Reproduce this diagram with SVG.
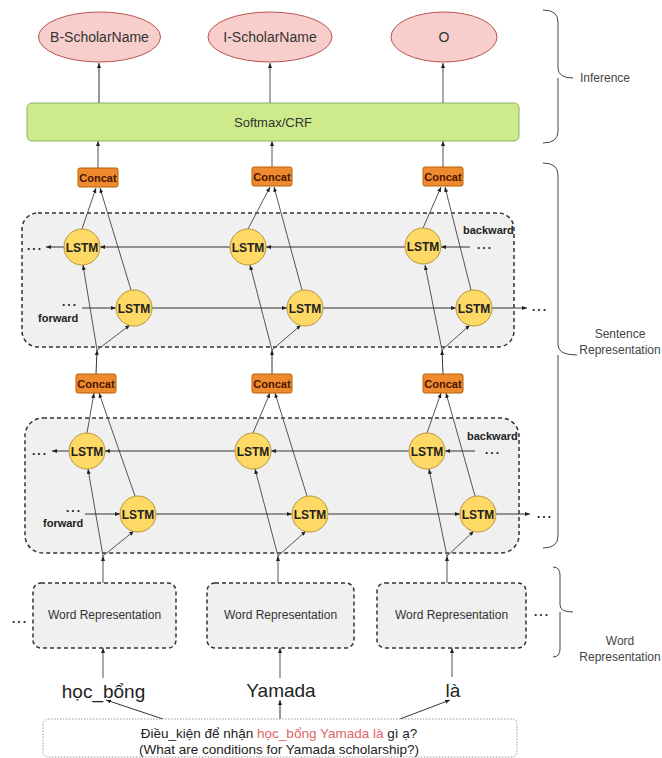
<svg xmlns="http://www.w3.org/2000/svg" width="662" height="758" viewBox="0 0 662 758">
<defs>
<marker id="a" viewBox="0 0 10 10" refX="10" refY="5" markerWidth="5" markerHeight="5" orient="auto" markerUnits="userSpaceOnUse"><path d="M0,1 L10,5 L0,9 Z" fill="#222"/></marker>
<style>
text{font-family:"Liberation Sans",Arial,sans-serif;fill:#333}
.ell{fill:#f8cecc;stroke:#b85450;stroke-width:1}
.lab{font-size:14px;text-anchor:middle}
.soft{fill:#cdeb8b;stroke:#82b366;stroke-width:1}
.cc{fill:#f08a2e;stroke:#b46504;stroke-width:1}
.cct{font-size:11px;font-weight:bold;text-anchor:middle;fill:#4a1500}
.ls{fill:#ffd966;stroke:#b8963a;stroke-width:1}
.lst{font-size:12px;font-weight:bold;text-anchor:middle;fill:#222}
.box{fill:#f0f0f0;stroke:#333;stroke-width:1.5;stroke-dasharray:4 3}
.wr{fill:#f0f0f0;stroke:#333;stroke-width:1.5;stroke-dasharray:4 3}
.wrt{font-size:12px;text-anchor:middle}
.ln{stroke:#333;stroke-width:1;fill:none}
.ld{stroke:#555;stroke-width:1;fill:none}
.arr{marker-end:url(#a)}
.dots{font-size:12px;font-weight:bold;fill:#222;letter-spacing:2px}
.dir{font-size:11px;font-weight:bold;fill:#222}
.br{stroke:#444;stroke-width:1;fill:none}
.side{font-size:12px;fill:#444}
.wd{font-size:19px;text-anchor:middle;fill:#222}
.sent{font-size:13.5px;text-anchor:middle;fill:#222}
</style>
</defs>

<!-- dashed container boxes -->
<rect id="upper-bilstm" class="box" x="22" y="213" width="492" height="134" rx="16"/>
<rect id="lower-bilstm" class="box" x="25" y="418" width="494" height="135" rx="18"/>

<g id="connectors">
<line class="ln arr" x1="99" y1="103" x2="99" y2="63"/>
<line class="ld arr" x1="270" y1="103" x2="270" y2="63"/>
<line class="ld arr" x1="443" y1="103" x2="443" y2="63"/>
<line class="ld arr" x1="98" y1="168" x2="98" y2="141"/>
<line class="ld arr" x1="272" y1="167" x2="272" y2="141"/>
<line class="ld arr" x1="443" y1="167" x2="443" y2="141"/>
<line class="ld arr" x1="82" y1="229" x2="96" y2="188"/>
<line class="ld arr" x1="131" y1="290" x2="100" y2="188"/>
<line class="ld arr" x1="248" y1="229" x2="270" y2="187"/>
<line class="ld arr" x1="302" y1="290" x2="274" y2="187"/>
<line class="ld arr" x1="423" y1="228" x2="441" y2="187"/>
<line class="ld arr" x1="471" y1="290" x2="445" y2="187"/>
<line class="ld arr" x1="97" y1="350" x2="83" y2="265"/>
<line class="ld arr" x1="97" y1="350" x2="130" y2="325"/>
<line class="ld arr" x1="272" y1="350" x2="250" y2="265"/>
<line class="ld arr" x1="272" y1="350" x2="301" y2="325"/>
<line class="ld arr" x1="442" y1="350" x2="425" y2="265"/>
<line class="ld arr" x1="442" y1="350" x2="470" y2="325"/>
<line class="ln arr" x1="470" y1="247" x2="441" y2="247"/>
<line class="ln arr" x1="405" y1="247" x2="266" y2="247"/>
<line class="ln arr" x1="230" y1="247" x2="100" y2="247"/>
<line class="ln arr" x1="64" y1="247" x2="46" y2="247"/>
<line class="ln arr" x1="82" y1="308" x2="116" y2="308"/>
<line class="ln arr" x1="152" y1="308" x2="287" y2="308"/>
<line class="ln arr" x1="323" y1="308" x2="456" y2="308"/>
<line class="ln arr" x1="492" y1="308" x2="527" y2="308"/>
<line class="ln arr" x1="96" y1="374" x2="97" y2="350"/>
<line class="ln arr" x1="272" y1="374" x2="272" y2="350"/>
<line class="ln arr" x1="443" y1="374" x2="442" y2="350"/>
<line class="ld arr" x1="87" y1="433" x2="94" y2="393"/>
<line class="ld arr" x1="135" y1="496" x2="99" y2="393"/>
<line class="ld arr" x1="253" y1="433" x2="270" y2="393"/>
<line class="ld arr" x1="307" y1="496" x2="275" y2="393"/>
<line class="ld arr" x1="427" y1="433" x2="441" y2="393"/>
<line class="ld arr" x1="475" y1="496" x2="446" y2="393"/>
<line class="ld arr" x1="103" y1="556" x2="88" y2="469"/>
<line class="ld arr" x1="103" y1="556" x2="134" y2="531"/>
<line class="ld arr" x1="278" y1="556" x2="255" y2="469"/>
<line class="ld arr" x1="278" y1="556" x2="306" y2="531"/>
<line class="ld arr" x1="447" y1="556" x2="429" y2="469"/>
<line class="ld arr" x1="447" y1="556" x2="474" y2="531"/>
<line class="ln arr" x1="475" y1="451" x2="445" y2="451"/>
<line class="ln arr" x1="409" y1="451" x2="271" y2="451"/>
<line class="ln arr" x1="235" y1="451" x2="105" y2="451"/>
<line class="ln arr" x1="69" y1="451" x2="52" y2="451"/>
<line class="ln arr" x1="85" y1="514" x2="120" y2="514"/>
<line class="ln arr" x1="156" y1="514" x2="292" y2="514"/>
<line class="ln arr" x1="328" y1="514" x2="460" y2="514"/>
<line class="ln arr" x1="496" y1="514" x2="530" y2="514"/>
<line class="ld arr" x1="103" y1="583" x2="103" y2="556"/>
<line class="ld arr" x1="278" y1="583" x2="278" y2="556"/>
<line class="ld arr" x1="447" y1="583" x2="447" y2="556"/>
<line class="ld arr" x1="103" y1="678" x2="103" y2="648"/>
<line class="ld arr" x1="280" y1="678" x2="280" y2="648"/>
<line class="ld arr" x1="452" y1="677" x2="452" y2="648"/>
<line class="ln arr" x1="163" y1="719" x2="106" y2="700"/>
<line class="ln arr" x1="280" y1="719" x2="280" y2="700"/>
<line class="ln arr" x1="400" y1="719" x2="450" y2="700"/>
</g>

<g id="out-b"><ellipse class="ell" cx="99.5" cy="37" rx="61" ry="25"/><text class="lab" x="99.5" y="42">B-ScholarName</text></g>
<g id="out-i"><ellipse class="ell" cx="270" cy="37" rx="62" ry="25"/><text class="lab" x="270" y="42">I-ScholarName</text></g>
<g id="out-o"><ellipse class="ell" cx="444" cy="37" rx="53" ry="25"/><text class="lab" x="444" y="42">O</text></g>

<g id="softmax"><rect class="soft" x="27" y="103" width="492" height="38" rx="5"/><text x="273" y="126.5" font-size="13" text-anchor="middle">Softmax/CRF</text></g>

<g id="concat-u1"><rect class="cc" x="78" y="168" width="40" height="19" rx="2"/><text class="cct" x="98" y="181.5">Concat</text></g>
<g id="concat-u2"><rect class="cc" x="252" y="167" width="40" height="19" rx="2"/><text class="cct" x="272" y="180.5">Concat</text></g>
<g id="concat-u3"><rect class="cc" x="423" y="167" width="40" height="19" rx="2"/><text class="cct" x="443" y="180.5">Concat</text></g>

<g id="lstm-ub1"><circle class="ls" cx="82" cy="247" r="18"/><text class="lst" x="82" y="251.5">LSTM</text></g>
<g id="lstm-ub2"><circle class="ls" cx="248" cy="247" r="18"/><text class="lst" x="248" y="251.5">LSTM</text></g>
<g id="lstm-ub3"><circle class="ls" cx="423" cy="246" r="18"/><text class="lst" x="423" y="250.5">LSTM</text></g>
<g id="lstm-uf1"><circle class="ls" cx="134" cy="308" r="18"/><text class="lst" x="134" y="312.5">LSTM</text></g>
<g id="lstm-uf2"><circle class="ls" cx="305" cy="308" r="18"/><text class="lst" x="305" y="312.5">LSTM</text></g>
<g id="lstm-uf3"><circle class="ls" cx="474" cy="308" r="18"/><text class="lst" x="474" y="312.5">LSTM</text></g>

<g id="concat-l1"><rect class="cc" x="76" y="374" width="40" height="19" rx="2"/><text class="cct" x="96" y="387.5">Concat</text></g>
<g id="concat-l2"><rect class="cc" x="252" y="374" width="40" height="19" rx="2"/><text class="cct" x="272" y="387.5">Concat</text></g>
<g id="concat-l3"><rect class="cc" x="423" y="374" width="40" height="19" rx="2"/><text class="cct" x="443" y="387.5">Concat</text></g>

<g id="lstm-lb1"><circle class="ls" cx="87" cy="451" r="18"/><text class="lst" x="87" y="455.5">LSTM</text></g>
<g id="lstm-lb2"><circle class="ls" cx="253" cy="451" r="18"/><text class="lst" x="253" y="455.5">LSTM</text></g>
<g id="lstm-lb3"><circle class="ls" cx="427" cy="451" r="18"/><text class="lst" x="427" y="455.5">LSTM</text></g>
<g id="lstm-lf1"><circle class="ls" cx="138" cy="514" r="18"/><text class="lst" x="138" y="518.5">LSTM</text></g>
<g id="lstm-lf2"><circle class="ls" cx="310" cy="514" r="18"/><text class="lst" x="310" y="518.5">LSTM</text></g>
<g id="lstm-lf3"><circle class="ls" cx="478" cy="514" r="18"/><text class="lst" x="478" y="518.5">LSTM</text></g>

<g id="labels">
<text class="dots" x="27" y="250">...</text>
<text class="dots" x="477" y="249">...</text>
<text class="dir" x="463" y="234">backward</text>
<text class="dots" x="62" y="306">...</text>
<text class="dir" x="38" y="322">forward</text>
<text class="dots" x="532" y="311">...</text>
<text class="dots" x="32" y="455">...</text>
<text class="dots" x="485" y="454">...</text>
<text class="dir" x="467" y="440">backward</text>
<text class="dots" x="66" y="512">...</text>
<text class="dir" x="43" y="527">forward</text>
<text class="dots" x="537" y="518">...</text>
<text class="dots" x="12" y="623">...</text>
<text class="dots" x="534" y="616">...</text>
</g>

<g id="wr1"><rect class="wr" x="33" y="583" width="143" height="65" rx="8"/><text class="wrt" x="104.5" y="619">Word Representation</text></g>
<g id="wr2"><rect class="wr" x="207" y="583" width="147" height="65" rx="8"/><text class="wrt" x="280.5" y="619">Word Representation</text></g>
<g id="wr3"><rect class="wr" x="377" y="583" width="149" height="65" rx="8"/><text class="wrt" x="451.5" y="619">Word Representation</text></g>

<g id="w1"><text class="wd" x="103.5" y="698">học_bổng</text></g>
<g id="w2"><text class="wd" x="281" y="697">Yamada</text></g>
<g id="w3"><text class="wd" x="453" y="697">là</text></g>

<g id="sentence">
<rect x="43" y="719" width="474" height="38" rx="5" fill="#fff" stroke="#999" stroke-width="1" stroke-dasharray="1.5 1.5"/>
<text class="sent" x="279" y="737.5">Điều_kiện để nhận <tspan fill="#e06666">học_bổng Yamada là</tspan> gì ạ?</text>
<text class="sent" x="279" y="753.5">(What are conditions for Yamada scholarship?)</text>
</g>

<g id="brace-inference">
<path class="br" d="M543,10 Q558,10 558,22 L558,68 Q558,78 573,78 M558,78 Q558,88 558,90 L558,131 Q558,143 543,143"/>
<text class="side" x="580" y="82">Inference</text>
</g>
<g id="brace-sentence">
<path class="br" d="M543,163 Q558,163 558,175 L558,345 Q558,355 577,355 M558,355 L558,536 Q558,548 543,548"/>
<text class="side" x="620" y="338" text-anchor="middle">Sentence</text>
<text class="side" x="620" y="354" text-anchor="middle">Representation</text>
</g>
<g id="brace-word">
<path class="br" d="M553,567 Q560,567 560,575 L560,605 Q560,612 573,612 M560,612 L560,649 Q560,657 553,657"/>
<text class="side" x="620" y="645" text-anchor="middle">Word</text>
<text class="side" x="620" y="661" text-anchor="middle">Representation</text>
</g>
</svg>
